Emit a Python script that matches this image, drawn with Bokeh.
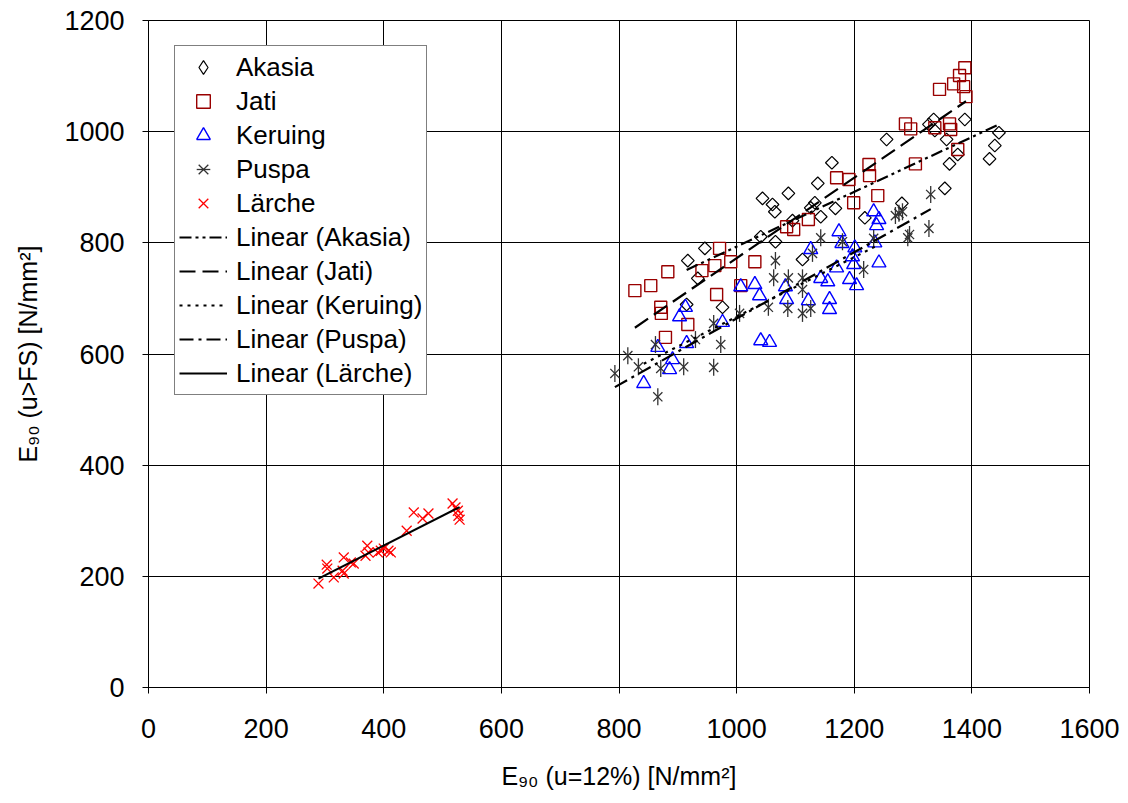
import numpy as np
from bokeh.plotting import figure
from bokeh.models import FixedTicker, Legend, LegendItem, Range1d, ColumnDataSource
from bokeh.embed import file_html
from bokeh.resources import INLINE

# ---- data ----
akasia_x = [917, 934, 915, 946, 976, 1041, 1044, 1061, 1065, 1066, 1088, 1095, 1112, 1126, 1133,
            1138, 1143, 1162, 1168, 1218, 1255, 1281, 1327, 1335, 1337, 1354, 1357, 1362, 1376,
            1388, 1430, 1439, 1446]
akasia_y = [768, 736, 689, 790, 684, 811, 880, 869, 856, 802, 889, 840, 770, 863, 872,
            907, 847, 944, 862, 845, 986, 871, 1013, 1022, 1002, 898, 986, 942, 959,
            1022, 951, 975, 998]

jati_x = [827, 854, 871, 872, 879, 883, 917, 941, 963, 966, 971, 990, 1007, 1031, 1085, 1097,
          1122, 1170, 1191, 1199, 1225, 1226, 1240, 1287, 1296, 1304, 1337, 1345, 1362, 1364,
          1369, 1376, 1379, 1386, 1388, 1390]
jati_y = [714, 723, 684, 673, 630, 748, 653, 750, 759, 707, 790, 766, 723, 766, 829, 824,
          842, 917, 914, 872, 941, 921, 885, 1014, 1005, 942, 1007, 1076, 1014, 1004,
          1086, 968, 1101, 1081, 1115, 1063]

keruing_x = [842, 866, 886, 891, 903, 913, 915, 976, 1007, 1031, 1039, 1041, 1056, 1083, 1085,
             1122, 1126, 1143, 1155, 1158, 1158, 1170, 1174, 1179, 1192, 1197, 1199, 1201,
             1204, 1233, 1235, 1238, 1242, 1242]
keruing_y = [547, 612, 572, 590, 667, 684, 619, 657, 721, 725, 705, 624, 621, 721, 698,
             696, 788, 736, 730, 698, 680, 755, 820, 799, 734, 775, 761, 791,
             723, 856, 800, 831, 842, 764]

puspa_x = [793, 815, 833, 862, 866, 871, 910, 930, 961, 961, 973, 1005, 1054, 1063, 1066, 1087,
           1088, 1112, 1112, 1112, 1126, 1129, 1143, 1180, 1216, 1233, 1270, 1276, 1282, 1291,
           1294, 1327, 1330]
puspa_y = [565, 597, 577, 617, 523, 574, 577, 626, 655, 576, 617, 673, 684, 737, 768, 682,
           737, 737, 716, 673, 682, 781, 809, 802, 752, 808, 849, 853, 856, 809,
           815, 826, 887]

laerche_x = [289, 303, 304, 315, 330, 332, 332, 344, 349, 369, 372, 374, 390, 395, 400, 408,
             412, 439, 451, 466, 476, 517, 522, 526, 527, 529]
laerche_y = [187, 221, 214, 198, 210, 205, 234, 225, 223, 237, 255, 243, 243, 246, 250, 246,
             243, 282, 315, 304, 313, 331, 324, 318, 309, 302]

x_ticks = [0, 200, 400, 600, 800, 1000, 1200, 1400, 1600]
y_ticks = [0, 200, 400, 600, 800, 1000, 1200]

FONT = "Liberation Sans"

p = figure(width=1128, height=803, x_range=(0, 1600), y_range=(0, 1200),
           output_backend="svg", toolbar_location=None,
           min_border_left=148, min_border_right=39, min_border_top=20, min_border_bottom=116)
p.background_fill_color = "white"
p.border_fill_color = "white"
p.outline_line_color = "black"
p.outline_line_width = 1
# a range far away, used only by the legend stand-in of the diamond marker
p.extra_x_ranges = {"legend_only": Range1d(100000, 200000)}

p.xaxis.ticker = FixedTicker(ticks=x_ticks)
p.yaxis.ticker = FixedTicker(ticks=y_ticks)
for ax in (p.xaxis, p.yaxis):
    ax.major_tick_in = 0
    ax.major_tick_out = 6
    ax.minor_tick_line_color = None
    ax.axis_line_color = "black"
    ax.major_tick_line_color = "black"
    ax.major_label_text_font = FONT
    ax.major_label_text_font_size = "27px"
    ax.major_label_text_color = "black"
    ax.axis_label_text_font = FONT
    ax.axis_label_text_font_size = "25px"
    ax.axis_label_text_font_style = "normal"
    ax.axis_label_text_color = "black"

p.xaxis.axis_label = "E\u2089\u2080 (u=12%) [N/mm\u00b2]"
p.yaxis.axis_label = "E\u2089\u2080 (u>FS) [N/mm\u00b2]"
p.xaxis.major_label_standoff = 25
p.yaxis.major_label_standoff = 18
p.xaxis.axis_label_standoff = 21
p.yaxis.axis_label_standoff = 19

p.xgrid.grid_line_color = "black"
p.ygrid.grid_line_color = "black"
p.xgrid.grid_line_width = 1
p.ygrid.grid_line_width = 1

# ---- markers ----
ak_src = ColumnDataSource(dict(x=akasia_x, y=akasia_y))
r_ak = p.scatter("x", "y", source=ak_src, marker="square", angle=np.pi / 4, size=9,
                 fill_color=None, line_color="black", line_width=1.2)
# legend stand-in for the diamond (legend does not rotate markers); mapped off-screen
r_ak_leg = p.scatter("x", "y", source=ak_src, x_range_name="legend_only",
                     marker="diamond", size=15,
                     fill_color=None, line_color="black", line_width=1.2)
r_ja = p.scatter(jati_x, jati_y, marker="square", size=12,
                 fill_color=None, line_color="#990000", line_width=1.4)
r_ke = p.scatter(keruing_x, keruing_y, marker="triangle", size=14,
                 fill_color=None, line_color="#0000ff", line_width=1.4)
r_pu1 = p.scatter(puspa_x, puspa_y, marker="x", size=13,
                  line_color="#333333", line_width=1.3)
r_pu2 = p.scatter(puspa_x, puspa_y, marker="dash", angle=np.pi / 2, size=17,
                  line_color="#333333", line_width=1.3)
r_la = p.scatter(laerche_x, laerche_y, marker="x", size=14,
                 line_color="#ff0000", line_width=1.3)

# ---- linear trend lines (least squares of each series) ----
def trend(xs, ys):
    k, d = np.polyfit(xs, ys, 1)
    xx = np.array([min(xs), max(xs)], dtype=float)
    return xx, k * xx + d

lines = []
for xs, ys, dash in [(akasia_x, akasia_y, "12 4 3 4 3 4"),
                     (jati_x, jati_y, "16 7"),
                     (keruing_x, keruing_y, "3 5"),
                     (puspa_x, puspa_y, "14 5 3 5"),
                     (laerche_x, laerche_y, "solid")]:
    lx, ly = trend(xs, ys)
    lines.append(p.line(lx, ly, line_color="black", line_width=2.2, line_dash=dash))

items = [
    LegendItem(label="Akasia", renderers=[r_ak_leg]),
    LegendItem(label="Jati", renderers=[r_ja]),
    LegendItem(label="Keruing", renderers=[r_ke]),
    LegendItem(label="Puspa", renderers=[r_pu1, r_pu2]),
    LegendItem(label="Lärche", renderers=[r_la]),
    LegendItem(label="Linear (Akasia)", renderers=[lines[0]]),
    LegendItem(label="Linear (Jati)", renderers=[lines[1]]),
    LegendItem(label="Linear (Keruing)", renderers=[lines[2]]),
    LegendItem(label="Linear (Puspa)", renderers=[lines[3]]),
    LegendItem(label="Linear (Lärche)", renderers=[lines[4]]),
]
legend = Legend(items=items, location=(26, 292), spacing=0, padding=4,
                glyph_width=48, glyph_height=34, label_height=34, label_standoff=9,
                label_text_font=FONT, label_text_font_size="26px", label_text_color="black",
                border_line_color="black", border_line_width=1,
                background_fill_color="white", background_fill_alpha=1.0, margin=0)
p.add_layout(legend, "center")

open("out.html", "w").write(file_html(p, INLINE))
